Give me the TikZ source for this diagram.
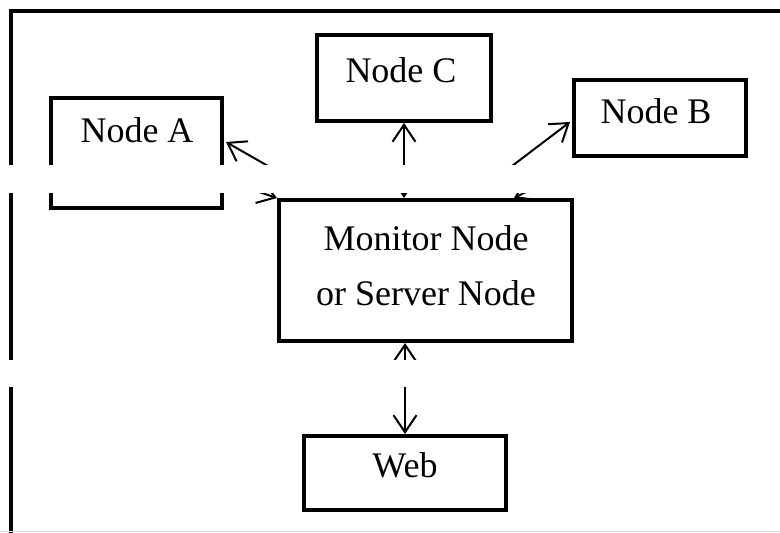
\documentclass[tikz,border=0pt]{standalone}
\usepackage{fontspec}
\setmainfont{Liberation Serif}
\usetikzlibrary{arrows.meta,calc}
\begin{document}
\begin{tikzpicture}[x=1pt,y=-1pt,
  box/.style={draw, line width=4pt, rectangle, inner sep=0pt},
  lbl/.style={inner sep=0pt, anchor=base, font=\fontsize{36}{40}\selectfont},
  arr/.style={line width=2pt,
    {Straight Barb[length=17pt,width=23pt]}-{Straight Barb[length=17pt,width=23pt]}},
  band/.style={fill=white, draw=none}]
\useasboundingbox (0,0) rectangle (780,533);
\clip (0,0) rectangle (780,533);

% outer frame
\draw[line width=4pt] (11,545) -- (11,11) -- (800,11);
\draw[gray!25, line width=1.5pt] (0,531.5) -- (780,531.5);

% boxes
\node[box, minimum width=171pt, minimum height=110pt] (a) at (136.5,153) {};
\node[box, minimum width=174pt, minimum height=86pt] (c) at (404,78) {};
\node[box, minimum width=172pt, minimum height=76pt] (b) at (660,118) {};
\node[box, minimum width=293pt, minimum height=141pt] (m) at (425.5,270.5) {};
\node[box, minimum width=202pt, minimum height=74pt] (w) at (405,473) {};

% labels
\node[lbl] (a-t) at (137,142) {Node A};
\node[lbl] (c-t) at (401,82) {Node C};
\node[lbl] (b-t) at (656,123) {Node B};
\node[lbl] (m-t1) at (426,250) {Monitor Node};
\node[lbl] (m-t2) at (426,305) {or Server Node};
\node[lbl] (w-t) at (405,477) {Web};

% connectors
\coordinate (a1) at (268,166);
\coordinate (a2) at (256,191);
\coordinate (b1) at (512,166);
\coordinate (b2) at (528,191);
\draw[arr] ($(a.east)+(2,-11)$) -- (a1) -- (a2) -- (m.north west);
\draw[arr] (c.south) -- (c.south |- m.north);
\draw[arr] ($(b.west)+(-2,4)$) -- (b1) -- (b2) -- ($(m.north east)+(-60,0)$);
\draw[arr] (m.south -| w.north) -- (w.north);

% blank horizontal strips
\fill[band] (-10,164.5) rectangle (790,192.5);
\fill[band] (-10,359.5) rectangle (790,386.5);
\end{tikzpicture}
\end{document}
